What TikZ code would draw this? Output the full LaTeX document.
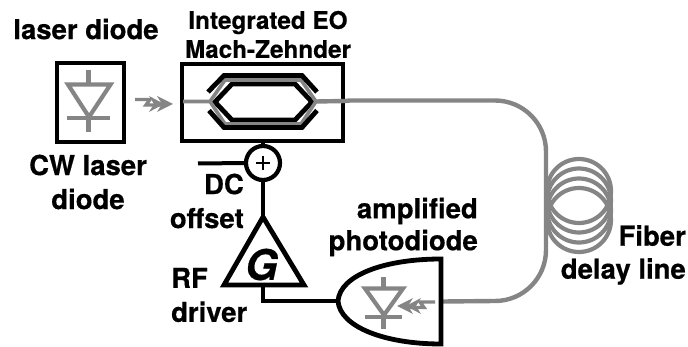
\documentclass[tikz,border=0pt]{standalone}
\usepackage{fontspec}
\setmainfont[BoldFeatures={FakeBold=0.5},BoldItalicFeatures={FakeBold=0.5}]{TeX Gyre Heros}
\definecolor{gr}{HTML}{858585}
\tikzset{
 blk/.style={draw=black,line width=4.8pt,miter limit=10},
 gry/.style={draw=gr,line width=4.2pt},
 fib/.style={draw=gr,line width=4.4pt},
 lab/.style={font=\fontsize{27.5}{33}\selectfont\bfseries,align=center,inner sep=0pt,text=black},
}
\begin{document}
\begin{tikzpicture}[x=1pt,y=-1pt]
\useasboundingbox (0,0) rectangle (688,347);
% boxes
\node[blk,draw,minimum width=67pt,minimum height=79pt,inner sep=0pt,outer sep=0pt,line width=4.8pt] (ld) at (90.5,102.5) {};
\node[blk,draw,minimum width=161.5pt,minimum height=77pt,inner sep=0pt,outer sep=0pt,line width=4.2pt] (mz) at (262.5,102.5) {};
% laser diode symbol
\draw[gry,miter limit=10] (68,84.5) -- (110.5,84.5) -- (89,117) -- cycle;
\draw[gry] (67,118) -- (110,118);
\draw[gry] (88.5,70) -- (88.5,84) (88.5,118) -- (88.5,132);
% MZ waveguides
\coordinate (inL) at (183,101.5);
\coordinate (tipL) at (210,101.5);
\coordinate (tipR) at (316,101.5);
\draw[blk,line join=miter] (215,102) -- (232,84) -- (295,84) -- (312,102) -- (295,120) -- (232,120) -- cycle;
\draw[gry,line width=3.6pt] (inL) -- (tipL) -- (225,80) -- (301,80) -- (tipR) -- (301,124) -- (225,124) -- (tipL);
\draw[blk] (208,92) -- (224,75.5) -- (302,75.5) -- (317,92);
\draw[blk] (209,110.5) -- (224,127.5) -- (302,127.5) -- (317,110.5);
% fiber
\coordinate (pdin) at (443,301.5);
\draw[fib] (tipR) -- (345,101) -- (350,100.5) -- (495,100.5) arc[start angle=-90,delta angle=90,radius=51] -- (546,250) arc[start angle=0,delta angle=90,radius=51] -- (pdin);
% coil
\foreach \cy in {191,200.5,210.5,220}{\draw[gry] (579,\cy) circle[radius=32];}
% sum
\node[blk,circle,line width=4.2pt,minimum size=34pt,inner sep=0pt,outer sep=0pt,fill=white] (sum) at (263,163) {};
\draw[line width=2.8pt] (256,163) -- (270,163) (263,156) -- (263,170);
\coordinate (dc) at (198,163.5);
\draw[blk,line width=4pt] (mz.south -| sum) -- (sum.north);
\draw[blk,line width=4pt] (dc) -- (sum.west);
% amplifier
\coordinate (apex) at (263,217);
\draw[blk,line join=miter,miter limit=10] (apex) -- (304,285) -- (224,285) -- cycle;
\node[font=\fontsize{42}{42}\selectfont\bfseries\itshape,inner sep=0pt] (g) at (261.5,264.5) {G};
\draw[blk,line width=4pt] (sum.south) -- (apex);
% photodiode
\coordinate (pdtip) at (338,301);
\draw[blk,line join=miter] (pdtip) .. controls (340,275) and (385,259) .. (441,259) -- (441,344) .. controls (385,344) and (340,327) .. (pdtip) -- cycle;
\coordinate (gout) at (263,287);
\draw[blk,line join=miter] (gout) |- (pdtip);
\draw[gry,miter limit=10] (365,288.5) -- (403,288.5) -- (384,315) -- cycle;
\draw[gry] (365,317) -- (402,317);
\draw[gry] (383.5,277) -- (383.5,288) (383.5,317) -- (383.5,329);
% lightning arrows
\draw[gr,line width=3.4pt] (135,99.5) -- (150,99.5) -- (146,105) -- (162,105);
\fill[gr] (173,104) -- (157,112) -- (162,104) -- (157,96) -- cycle;
\fill[gr] (164,104) -- (149,112) -- (154,104) -- (149,96) -- cycle;
\draw[gr,line width=3.4pt] (435,302) -- (420,302) -- (424,307.5) -- (408,307.5);
\fill[gr] (397,306) -- (413,298) -- (408,306) -- (413,314) -- cycle;
\fill[gr] (406,306) -- (421,298) -- (416,306) -- (421,314) -- cycle;
% labels
\node[lab] (t1) at (86,29) {laser diode};
\node[lab,font=\fontsize{24.3}{29}\selectfont\bfseries] (t2) at (268,34.5) {Integrated EO\\Mach-Zehnder};
\node[lab,font=\fontsize{27.5}{34}\selectfont\bfseries] (t3) at (88,182) {CW laser\\diode};
\node[lab,font=\fontsize{27.5}{34}\selectfont\bfseries,align=right,anchor=east] (t4) at (244,201) {DC\\offset};
\node[lab,font=\fontsize{27.5}{34}\selectfont\bfseries,align=left,anchor=west] (t5) at (171,295) {RF\\driver};
\node[lab,font=\fontsize{27.5}{32}\selectfont\bfseries,align=right,anchor=east] (t6) at (478,227) {amplified\\photodiode};
\node[lab,font=\fontsize{27.5}{33}\selectfont\bfseries,align=right,anchor=east] (t7) at (686,255) {Fiber\\delay line};
\end{tikzpicture}
\end{document}
